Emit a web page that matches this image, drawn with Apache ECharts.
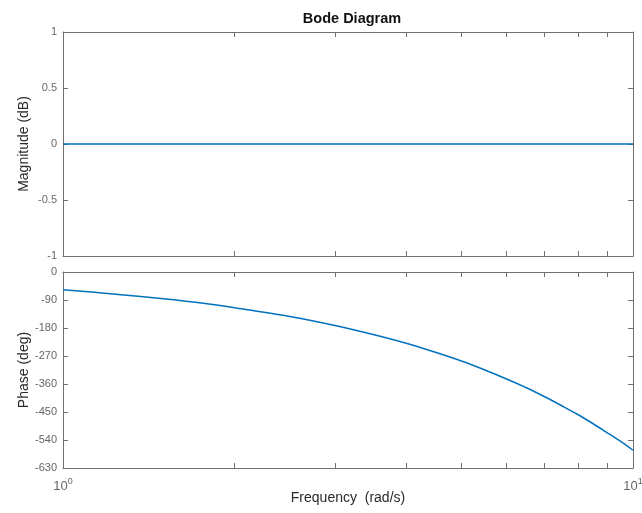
<!DOCTYPE html>
<html>
<head>
<meta charset="utf-8">
<script src="https://cdn.jsdelivr.net/npm/echarts@6/dist/echarts.min.js"></script>
<style>html,body{margin:0;padding:0;background:#fff;}#c{width:642px;height:513px;}</style>
</head>
<body>
<div id="c"></div>
<script>
// Data
var magFreq = [1, 2, 5, 10];
var magDb = [0, 0, 0, 0];
var phaseFreq = [1, 1.25, 1.5, 1.75, 2, 2.5, 3, 3.5, 4, 4.5, 5, 5.5, 6, 6.5, 7, 7.5, 8, 8.5, 9, 9.5, 10];
var phaseDeg = [-57, -72, -86, -100, -115, -143, -172, -201, -229, -258, -286, -315, -344, -372, -401, -430, -458, -487, -516, -544, -573];
var xTicks = [1, 2, 3, 4, 5, 6, 7, 8, 9, 10];
var xLabels = [1, 10];
var magTicks = [-1, -0.5, 0, 0.5, 1];
var phaseTicks = [-630, -540, -450, -360, -270, -180, -90, 0];

var FONT = 'Liberation Sans';
var lineC = '#707070';
var labC = '#666666';
var nameC = '#2a2a2a';

function zip(a, b) { return a.map(function (v, i) { return [v, b[i]]; }); }

function xAx(grid, pos, withLabels) {
  return {
    type: 'log', logBase: 10, min: 1, max: 10, gridIndex: grid, position: pos,
    axisLine: { show: true, onZero: false, lineStyle: { color: lineC, width: 1 } },
    axisTick: { show: true, inside: true, length: 5, customValues: xTicks, lineStyle: { color: lineC } },
    minorTick: { show: false },
    splitLine: { show: false },
    axisLabel: withLabels ? {
      show: true, customValues: xLabels, margin: 9, color: labC, fontFamily: FONT, fontSize: 12,
      formatter: function (v) { return '{b|10}{s|' + Math.round(Math.log10(v)) + '}'; },
      rich: {
        b: { fontSize: 13, fontFamily: FONT, color: labC },
        s: { fontSize: 9, fontFamily: FONT, color: labC, padding: [0, 0, 9, 0] }
      }
    } : { show: false },
    name: withLabels ? 'Frequency  (rad/s)' : '',
    nameLocation: 'middle', nameGap: 23, nameMoveOverlap: false,
    nameTextStyle: { color: nameC, fontFamily: FONT, fontSize: 14 }
  };
}
function yAx(grid, pos, min, max, interval, ticks, name, withLabels) {
  return {
    type: 'value', gridIndex: grid, position: pos, min: min, max: max, interval: interval,
    axisLine: { show: true, onZero: false, lineStyle: { color: lineC, width: 1 } },
    axisTick: { show: true, inside: true, length: 5, lineStyle: { color: lineC } },
    splitLine: { show: false },
    axisLabel: withLabels ? { show: true, color: labC, fontFamily: FONT, fontSize: 11, margin: 6 } : { show: false },
    name: name, nameLocation: 'middle', nameGap: 32, nameMoveOverlap: false,
    nameTextStyle: { color: nameC, fontFamily: FONT, fontSize: 14 }
  };
}

var chart = echarts.init(document.getElementById('c'), null, { renderer: 'canvas' });
chart.setOption({
  animation: false,
  backgroundColor: '#ffffff',
  title: {
    text: 'Bode Diagram', left: 347, top: 6, textAlign: 'center',
    textStyle: { fontFamily: FONT, fontSize: 14.5, fontWeight: 'bold', color: '#111' }
  },
  grid: [
    { left: 63, right: 9, top: 32, height: 224, outerBoundsMode: 'none', containLabel: false },
    { left: 63, right: 9, top: 272, height: 196, outerBoundsMode: 'none', containLabel: false }
  ],
  xAxis: [
    xAx(0, 'bottom', false),
    xAx(0, 'top', false),
    xAx(1, 'bottom', true),
    xAx(1, 'top', false)
  ],
  yAxis: [
    yAx(0, 'left', -1, 1, 0.5, magTicks, 'Magnitude (dB)', true),
    yAx(0, 'right', -1, 1, 0.5, magTicks, '', false),
    yAx(1, 'left', -630, 0, 90, phaseTicks, 'Phase (deg)', true),
    yAx(1, 'right', -630, 0, 90, phaseTicks, '', false)
  ],
  series: [
    {
      type: 'line', xAxisIndex: 0, yAxisIndex: 0, data: zip(magFreq, magDb),
      showSymbol: false, lineStyle: { color: '#0072BD', width: 1.5 }
    },
    {
      type: 'line', xAxisIndex: 2, yAxisIndex: 2, data: zip(phaseFreq, phaseDeg),
      showSymbol: false, smooth: 0.3, lineStyle: { color: '#0072BD', width: 1.5 }
    }
  ]
});
</script>
</body>
</html>
